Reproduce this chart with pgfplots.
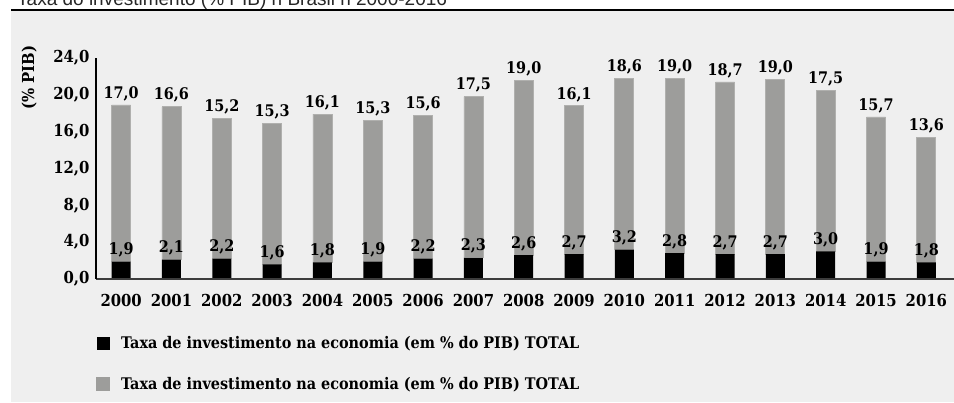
\documentclass[border=0pt]{standalone}
\usepackage{pgfplots}
\pgfplotsset{compat=1.18}
\usepackage{pgfplotstable}
\usepackage{fontspec}
\setmainfont{DejaVu Serif Condensed}
\newfontfamily\titlefont{Liberation Sans}
\definecolor{bg}{HTML}{EFEFEF}
\definecolor{barg}{HTML}{9D9D9B}
\definecolor{bargedge}{HTML}{B0B0AE}
\definecolor{axgray}{HTML}{3C3C3C}
\pgfplotsset{layers/mylayers/.define layer set={axis background,axis grid,main,axis ticks,axis lines,axis tick labels,axis descriptions,axis foreground}{/pgfplots/layers/standard}}
\pgfplotstableread{
x a b c
0 1.9 17.0 18.9
1 2.1 16.6 18.7
2 2.2 15.2 17.4
3 1.6 15.3 16.9
4 1.8 16.1 17.9
5 1.9 15.3 17.2
6 2.2 15.6 17.8
7 2.3 17.5 19.8
8 2.6 19.0 21.6
9 2.7 16.1 18.8
10 3.2 18.6 21.8
11 2.8 19.0 21.8
12 2.7 18.7 21.4
13 2.7 19.0 21.7
14 3.0 17.5 20.5
15 1.9 15.7 17.6
16 1.8 13.6 15.4
}\data
\pgfplotsset{common/.style={
  at={(96pt,123pt)}, anchor=south west,
  scale only axis, width=858pt, height=221pt,
  xmin=-0.5, xmax=16.55, ymin=0, ymax=24, clip=false}}
\begin{document}
\begin{tikzpicture}
\fill[bg] (11pt,0pt) rectangle (954pt,390.5pt);
\draw[black, line width=2pt] (11pt,392pt) -- (954pt,392pt);
\node[anchor=base west, inner sep=0pt, font=\titlefont\fontsize{19}{22}\selectfont, text=black!85] at (17pt,396pt) {Taxa do investimento (\% PIB) n Brasil n 2000-2016};
\begin{axis}[
  common,
  set layers=mylayers,
  ybar stacked, bar width=19pt,
  axis lines=left, axis line style={-},
  x axis line style={axgray, line width=1.5pt},
  y axis line style={black, line width=1.2pt},
  ytick={0,4,...,24},
  xtick={0,...,16},
  xticklabels={2000,2001,2002,2003,2004,2005,2006,2007,2008,2009,2010,2011,2012,2013,2014,2015,2016},
  major tick length=0pt,
  ymajorgrids, grid style={white, line width=1.5pt},
  /pgf/number format/assume math mode=true,
  yticklabel style={/pgf/number format/.cd, fixed, fixed zerofill, precision=1, use comma, /tikz/.cd, xshift=-3pt},
  xticklabel style={yshift=-12pt},
  ticklabel style={font=\bfseries\fontsize{16.5}{18}\selectfont},
  ylabel={(\% PIB)},
  ylabel style={at={(axis description cs:-0.078,0.91)}, anchor=center, font=\bfseries\fontsize{16.5}{18}\selectfont},
  legend style={at={(axis description cs:0,-0.258)}, anchor=north west, draw=none, fill=none, font=\bfseries\fontsize{16}{18}\selectfont, row sep=27pt, inner sep=0pt, nodes={inner sep=0pt}, /tikz/every odd column/.append style={column sep=11pt}},
  legend cell align=left,
]
\addplot[fill=black, draw=none, legend image code/.code={\fill[black] (0pt,-6.5pt) rectangle (13pt,6.5pt);}] table[x=x, y=a] {\data};
\addplot[fill=barg, draw=bargedge, line width=0.8pt, legend image code/.code={\fill[barg] (0pt,-6.5pt) rectangle (13pt,6.5pt);}] table[x=x, y=b] {\data};
\legend{Taxa de investimento na economia (em \% do PIB) TOTAL, Taxa de investimento na economia (em \% do PIB) TOTAL}
\end{axis}
\begin{axis}[
  common, hide axis,
  nodes near coords, point meta=explicit,
  /pgf/number format/assume math mode=true,
  nodes near coords style={/pgf/number format/.cd, fixed, fixed zerofill, precision=1, use comma, /tikz/.cd, font=\bfseries\fontsize{16}{18}\selectfont, anchor=south, inner sep=4pt},
]
\addplot[draw=none, mark=none] table[x=x, y=a, meta=a] {\data};
\addplot[draw=none, mark=none] table[x=x, y=c, meta=b] {\data};
\end{axis}
\pgfresetboundingbox
\useasboundingbox (0pt,0pt) rectangle (954pt,402pt);
\end{tikzpicture}
\end{document}
